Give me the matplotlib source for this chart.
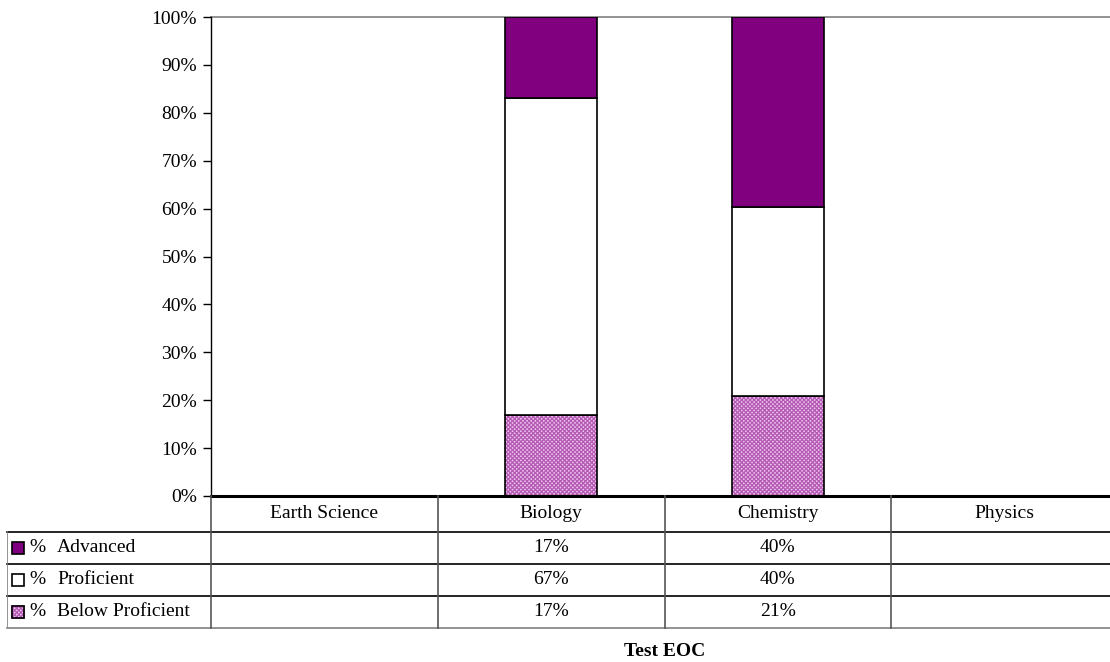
"""Stacked 100% bar chart of EOC test results with a data table underneath."""

import matplotlib
matplotlib.use("Agg")
import matplotlib.pyplot as plt
from matplotlib.patches import Rectangle

# data
SUBJECTS = ["Earth Science", "Biology", "Chemistry", "Physics"]
ADVANCED = [None, 17, 40, None]
PROFICIENT = [None, 67, 40, None]
BELOW = [None, 17, 21, None]
SERIES_NAMES = ["Advanced", "Proficient", "Below Proficient"]
Y_TICKS = list(range(0, 101, 10))
X_LABEL = "Test EOC"

ADV_COLOR = "#800080"
PROF_COLOR = "#ffffff"
BELOW_FACE = "#eec4ee"
BELOW_HATCH = "#b45ab4"

plt.rcParams["font.family"] = ["Liberation Serif", "DejaVu Serif"]
plt.rcParams["font.size"] = 14
plt.rcParams["hatch.linewidth"] = 0.9

W, H = 1110, 662
fig = plt.figure(figsize=(W / 100, H / 100), dpi=100)

# main axes: pixel box 211..1118 x 17..496
ax = fig.add_axes([211 / W, 1 - 496 / H, (1118 - 211) / W, (496 - 17) / H])
ax.set_xlim(-0.5, len(SUBJECTS) - 0.5)
ax.set_ylim(0, 100)

bar_w = 0.405
for i, subj in enumerate(SUBJECTS):
    if BELOW[i] is None:
        continue
    total = BELOW[i] + PROFICIENT[i] + ADVANCED[i]
    b = BELOW[i] / total * 100
    p = PROFICIENT[i] / total * 100
    a = ADVANCED[i] / total * 100
    # hatched layer then outline
    ax.bar(i, b, width=bar_w, color=BELOW_FACE, edgecolor=BELOW_HATCH,
           hatch="xxxxxxxx", linewidth=0, zorder=2)
    ax.bar(i, b, width=bar_w, fill=False, edgecolor="black", linewidth=1.2, zorder=3)
    ax.bar(i, p, bottom=b, width=bar_w, color=PROF_COLOR, edgecolor="black",
           linewidth=1.2, zorder=3)
    ax.bar(i, a, bottom=b + p, width=bar_w, color=ADV_COLOR, edgecolor="black",
           linewidth=1.2, zorder=3)

ax.axhline(100, color="#808080", linewidth=1.2, zorder=1, clip_on=False)
ax.set_yticks(Y_TICKS)
ax.set_yticklabels([f"{t}%" for t in Y_TICKS])
ax.tick_params(axis="y", direction="out", length=6, width=1, pad=4)
ax.set_xticks([])
for s in ["top", "right"]:
    ax.spines[s].set_visible(False)
ax.spines["left"].set_linewidth(1)
ax.spines["bottom"].set_linewidth(2.2)
ax.spines["bottom"].set_zorder(5)

# table underneath: pixel box 7..1118 x 496..628
tax = fig.add_axes([7 / W, 1 - 628 / H, (1118 - 7) / W, (628 - 496) / H])
left_edge = -0.5 - (211 - 7) / ((1118 - 211) / len(SUBJECTS))
tax.set_xlim(left_edge, len(SUBJECTS) - 0.5)
row_edges = [0, 36, 68, 100, 132]
tax.set_ylim(row_edges[-1], row_edges[0])
tax.axis("off")

# horizontal lines
for k, y in enumerate(row_edges[1:], start=1):
    col = "#808080" if k == len(row_edges) - 1 else "black"
    tax.plot([left_edge, len(SUBJECTS) - 0.5], [y, y], color=col, lw=1.2, clip_on=False)
# vertical lines
tax.plot([left_edge, left_edge], [row_edges[1], row_edges[-1]], color="#808080", lw=1.2)
for j in range(len(SUBJECTS)):
    tax.plot([j - 0.5, j - 0.5], [0, row_edges[-1]], color="#555555", lw=1.2, clip_on=False)

# header row
for j, subj in enumerate(SUBJECTS):
    tax.text(j, (row_edges[0] + row_edges[1]) / 2, subj, ha="center", va="center")

rows = [ADVANCED, PROFICIENT, BELOW]
swatches = [
    dict(facecolor=ADV_COLOR, edgecolor="black"),
    dict(facecolor=PROF_COLOR, edgecolor="black"),
    dict(facecolor=BELOW_FACE, edgecolor=BELOW_HATCH, hatch="xxxxxxxx"),
]
px = (1118 - 7) / (len(SUBJECTS) - 0.5 - left_edge)  # pixels per x unit
for r, (name, vals, sw) in enumerate(zip(SERIES_NAMES, rows, swatches)):
    yc = (row_edges[r + 1] + row_edges[r + 2]) / 2
    x0 = left_edge + 5 / px
    rect = Rectangle((x0, yc - 6), 12 / px, 12, linewidth=1.2, **sw)
    tax.add_patch(rect)
    if "hatch" in sw:
        tax.add_patch(Rectangle((x0, yc - 6), 12 / px, 12, fill=False,
                                edgecolor="black", linewidth=1.2))
    tax.text(left_edge + 22 / px, yc, "%", ha="left", va="center")
    tax.text(left_edge + 50 / px, yc, name, ha="left", va="center")
    for j, v in enumerate(vals):
        if v is not None:
            tax.text(j, yc, f"{v}%", ha="center", va="center")

fig.text((211 + (1118 - 211) * 0.5) / W, 1 - 652 / H, X_LABEL, ha="center",
         va="center", fontweight="bold")

fig.savefig("out.png", dpi=100)
